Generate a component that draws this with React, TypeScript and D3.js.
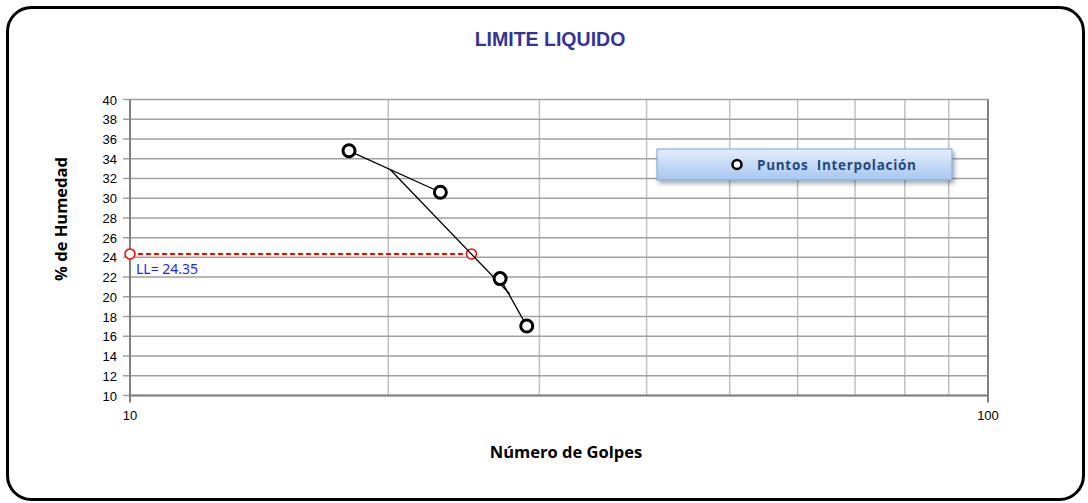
import * as d3 from "d3";
import React from "react";

// puntos del ensayo
const golpes = [18, 23, 27, 29];
const humedad = [34.8, 30.6, 21.85, 17.04];

// recta de interpolacion
const interpX = [20.1, 27.7];
const interpY = [32.9, 20.3];

// limite liquido a 25 golpes
const llGolpes = [10, 25];
const llValor = [24.35, 24.35];

const yTicks = d3.range(10, 41, 2);
const xGrid = [10, 20, 30, 40, 50, 60, 70, 80, 90, 100];
const xLabels = [10, 100];

export default function App() {
  const x = d3.scaleLog().domain([10, 100]).range([130, 988]);
  const y = d3.scaleLinear().domain([10, 40]).range([395.5, 99.5]);

  const line = d3
    .line<[number, number]>()
    .x((d) => x(d[0]))
    .y((d) => y(d[1]));

  const pts: [number, number][] = golpes.map((g, i) => [g, humedad[i]]);
  const interp: [number, number][] = interpX.map((g, i) => [g, interpY[i]]);
  const ll: [number, number][] = llGolpes.map((g, i) => [g, llValor[i]]);

  return (
    <svg
      width={1088}
      height={503}
      style={{ position: "absolute", left: 0, top: 0, background: "#fff" }}
    >
      <defs>
        <linearGradient id="leg" x1="0" y1="0" x2="0" y2="1">
          <stop offset="0" stopColor="#e4eefc" />
          <stop offset="1" stopColor="#a7c6f0" />
        </linearGradient>
        <filter id="sh" x="-10%" y="-30%" width="120%" height="180%">
          <feDropShadow dx="2" dy="3" stdDeviation="2" floodColor="#000" floodOpacity="0.35" />
        </filter>
      </defs>
      <rect x={7.5} y={7.5} width={1076} height={492} rx={24} fill="#fff" stroke="#000" strokeWidth={3} />

      <text
        transform="translate(550,46) scale(0.93,1)"
        textAnchor="middle"
        fontFamily="'Liberation Sans Narrow', 'Arial Narrow', 'Liberation Sans', sans-serif"
        fontWeight="bold"
        fontSize={21}
        fill="#333399"
      >
        LIMITE LIQUIDO
      </text>

      {/* rejilla */}
      {xGrid.map((g) => (
        <line key={"v" + g} x1={x(g)} x2={x(g)} y1={y(40)} y2={y(10)} stroke="#c0c0c0" strokeWidth={1.5} />
      ))}
      {yTicks.map((t) => (
        <g key={"h" + t}>
          <line x1={123} x2={x(100)} y1={y(t)} y2={y(t)} stroke="#a0a0a0" strokeWidth={1.5} />
          <text
            x={117}
            y={y(t) + 5}
            textAnchor="end"
            fontFamily="'Liberation Sans', Arial, sans-serif"
            fontSize={13}
            fill="#000"
          >
            {t}
          </text>
        </g>
      ))}
      <line x1={x(10)} x2={x(10)} y1={y(40)} y2={y(10) + 7} stroke="#808080" strokeWidth={2} />
      <line x1={x(10)} x2={x(100)} y1={y(10)} y2={y(10)} stroke="#808080" strokeWidth={2} />
      <line x1={x(100)} x2={x(100)} y1={y(40)} y2={y(10) + 7} stroke="#808080" strokeWidth={2} />
      {xLabels.map((t) => (
        <text
          key={"xl" + t}
          x={x(t)}
          y={420}
          textAnchor="middle"
          fontFamily="'Liberation Sans', Arial, sans-serif"
          fontSize={13}
          fill="#000"
        >
          {t}
        </text>
      ))}

      {/* limite liquido */}
      <path d={line(ll) || ""} fill="none" stroke="#ff0000" strokeWidth={2} strokeDasharray="5,3" />
      {ll.map((d, i) => (
        <circle key={"ll" + i} cx={x(d[0])} cy={y(d[1])} r={5} fill="#fff" stroke="#ff0000" strokeWidth={1.5} />
      ))}
      <text x={136} y={274} fontFamily="'Noto Sans', sans-serif" fontSize={14} fill="#1f1fff">
        LL= 24.35
      </text>

      {/* lineas */}
      <path d={line(pts.slice(0, 2)) || ""} fill="none" stroke="#000" strokeWidth={1.3} />
      <path d={line(pts.slice(2, 4)) || ""} fill="none" stroke="#000" strokeWidth={1.3} />
      <path d={line(interp) || ""} fill="none" stroke="#000" strokeWidth={1.3} />
      {pts.map((d, i) => (
        <circle key={"p" + i} cx={x(d[0])} cy={y(d[1])} r={6} fill="#fff" stroke="#000" strokeWidth={3} />
      ))}

      {/* leyenda */}
      <rect x={657} y={149} width={295} height={31} fill="url(#leg)" stroke="#7ea3d8" strokeWidth={1} filter="url(#sh)" />
      <circle cx={737} cy={164.5} r={4.5} fill="#fff" stroke="#000" strokeWidth={2.5} />
      <text
        x={757}
        y={169.5}
        fontFamily="'Open Sans', sans-serif"
        fontWeight="bold"
        fontSize={13.5}
        fill="#1f497d"
        letterSpacing={0.7}
        style={{ whiteSpace: "pre" }}
      >
        Puntos  Interpolación
      </text>

      {/* titulos de ejes */}
      <text
        transform="translate(67,219) rotate(-90)"
        textAnchor="middle"
        fontFamily="'Open Sans', sans-serif"
        fontWeight="bold"
        fontSize={16.5}
        fill="#000"
      >
        % de Humedad
      </text>
      <text
        x={566}
        y={458}
        textAnchor="middle"
        fontFamily="'Open Sans', sans-serif"
        fontWeight="bold"
        fontSize={16.5}
        fill="#000"
      >
        Número de Golpes
      </text>
    </svg>
  );
}
